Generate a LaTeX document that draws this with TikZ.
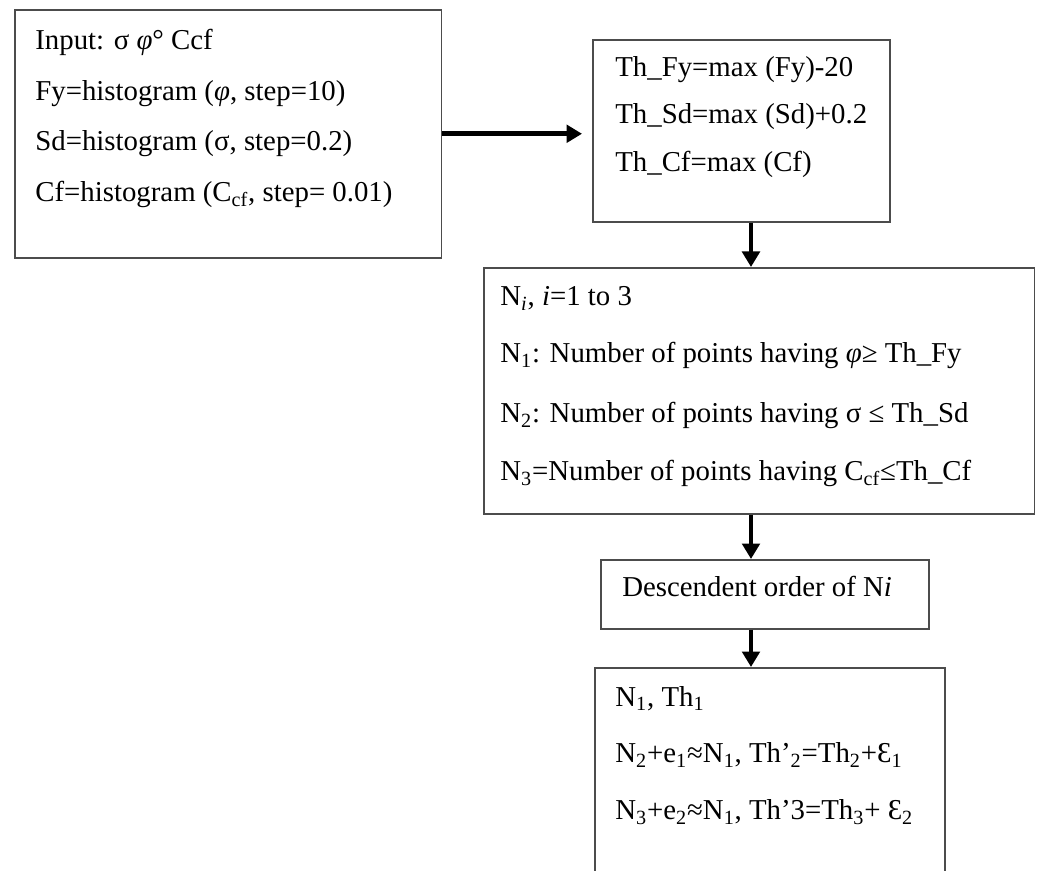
\documentclass[tikz,border=0pt]{standalone}
\usepackage{fontspec}
\setmainfont{Liberation Serif}
\usetikzlibrary{arrows.meta,calc}
\def\lo#1{\textsubscript{#1}}

\begin{document}
\begin{tikzpicture}[x=0.02cm, y=-0.02cm, font=\fontsize{16.4}{20}\selectfont,
	box/.style={draw=black!70, line width=0.9pt, anchor=north west, inner sep=0pt},
	line/.style={anchor=base west, inner sep=0pt},
	flow/.style={-{Triangle[length=0.31cm, width=0.35cm]}, line width=2.7pt}]
			%%%%% START %%%%%
			
			\useasboundingbox (0, 0) rectangle (1039, 871);
			\clip (0, 0) rectangle (1039, 871);
			\coordinate (axis) at (751, 0);
			
			\node[box, minimum width=8.54cm, minimum height=4.96cm] (input) at (14, 9) {};
			\node[line] (in1) at (35, 50) {Input: σ \textit{φ}° Ccf};
			\node[line] (in2) at (35, 101) {Fy=histogram (\textit{φ}, step=10)};
			\node[line] (in3) at (35, 151) {Sd=histogram (σ, step=0.2)};
			\node[line] (in4) at (35, 202) {Cf=histogram (C\lo{cf}, step= 0.01)};
			
			\node[box, minimum width=5.95cm, minimum height=3.64cm] (th) at (592, 39) {};
			\node[line] (th1) at (615, 77) {Th\_Fy=max (Fy)-20};
			\node[line] (th2) at (615, 124) {Th\_Sd=max (Sd)+0.2};
			\node[line] (th3) at (615, 172) {Th\_Cf=max (Cf)};
			
			\node[box, minimum width=11.02cm, minimum height=4.92cm] (count) at (483, 267) {};
			\node[line] (cn0) at (500, 306) {N\lo{\textit{i}}, \textit{i}=1 to 3};
			\node[line] (cn1) at (500, 363) {N\lo{1}: Number of points having \textit{φ}≥ Th\_Fy};
			\node[line] (cn2) at (500, 423) {N\lo{2}: Number of points having σ ≤ Th\_Sd};
			\node[line] (cn3) at (500, 481) {N\lo{3}=Number of points having C\lo{cf}≤Th\_Cf};
			
			\node[box, minimum width=6.56cm, minimum height=1.38cm] (order) at (600, 559) {};
			\node[line] (od1) at (622, 597) {Descendent order of N\textit{i}};
			
			\node[box, minimum width=7cm, minimum height=4.4cm] (rank) at (594, 667) {};
			\node[line] (rk1) at (615, 706) {N\lo{1}, Th\lo{1}};
			\node[line] (rk2) at (615, 763) {N\lo{2}+e\lo{1}≈N\lo{1}, Th’\lo{2}=Th\lo{2}+Ɛ\lo{1}};
			\node[line] (rk3) at (615, 820) {N\lo{3}+e\lo{2}≈N\lo{1}, Th’3=Th\lo{3}+ Ɛ\lo{2}};
			
			\draw[flow] (input.east) -- ($(th.west |- input.east)+(-10, 0)$);
			\draw[flow] (th.south -| axis) -- (count.north -| axis);
			\draw[flow] (count.south -| axis) -- (order.north -| axis);
			\draw[flow] (order.south -| axis) -- (rank.north -| axis);
			
			%%%%% END %%%%%
\end{tikzpicture}
\end{document}
